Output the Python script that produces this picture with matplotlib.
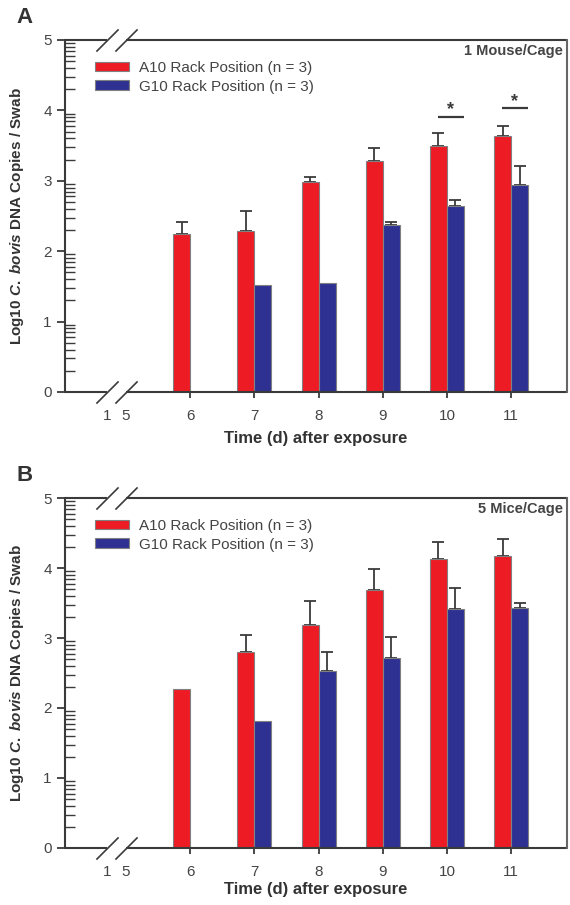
import numpy as np
import matplotlib
matplotlib.use("Agg")
import matplotlib.pyplot as plt

plt.rcParams['font.family'] = ['Liberation Sans', 'DejaVu Sans']
plt.rcParams['mathtext.fontset'] = 'custom'
plt.rcParams['mathtext.rm'] = 'Liberation Sans:bold'
plt.rcParams['mathtext.bf'] = 'Liberation Sans:bold'
plt.rcParams['mathtext.it'] = 'Liberation Sans:italic:bold'
plt.rcParams['mathtext.bfit'] = 'Liberation Sans:italic:bold'

# Podaci (očitani sa slike)
days = [6, 7, 8, 9, 10, 11]
break_labels = ['1', '5']

# Panel A - 1 mouse/cage
a_red = [2.24, 2.29, 2.98, 3.28, 3.49, 3.64]
a_red_err = [0.17, 0.28, 0.07, 0.19, 0.19, 0.14]
a_blue = [np.nan, 1.52, 1.55, 2.37, 2.64, 2.94]
a_blue_err = [0, 0, 0, 0.04, 0.09, 0.27]
a_sig_days = [10, 11]
a_sig_lines = [3.91, 4.03]

# Panel B - 5 mice/cage
b_red = [2.27, 2.80, 3.19, 3.68, 4.13, 4.17]
b_red_err = [0, 0.24, 0.34, 0.30, 0.24, 0.24]
b_blue = [np.nan, 1.81, 2.53, 2.71, 3.41, 3.43]
b_blue_err = [0, 0, 0.27, 0.30, 0.30, 0.07]

red = '#ED1C24'
blue = '#2E3192'
dark = '#3a3a3a'
width = 0.265
x_lo, x_hi = 4.05, 11.87
brk = [4.7, 5.0]


def draw_panel(ax, red_vals, red_err, blue_vals, blue_err, note, letter,
               sig_days=(), sig_lines=()):
    x = np.array(days, dtype=float)
    rv = np.array(red_vals)
    bv = np.array(blue_vals)
    ok_r = ~np.isnan(rv)
    ok_b = ~np.isnan(bv)
    ax.bar(x[ok_r] - width / 2, rv[ok_r], width, color=red, edgecolor='#808080',
           linewidth=0.8, label='A10 Rack Position (n = 3)', zorder=2)
    ax.bar(x[ok_b] + width / 2, bv[ok_b], width, color=blue, edgecolor='#808080',
           linewidth=0.8, label='G10 Rack Position (n = 3)', zorder=2)

    # samo gornje greške
    re = np.array(red_err)
    be = np.array(blue_err)
    m = ok_r & (re > 0)
    ax.errorbar(x[m] - width / 2, rv[m], yerr=[np.zeros(m.sum()), re[m]],
                fmt='none', ecolor=dark, elinewidth=1.3, capsize=4, capthick=1.3, zorder=1)
    m = ok_b & (be > 0)
    ax.errorbar(x[m] + width / 2, bv[m], yerr=[np.zeros(m.sum()), be[m]],
                fmt='none', ecolor=dark, elinewidth=1.3, capsize=4, capthick=1.3, zorder=1)

    # zvjezdice
    for d, yl in zip(sig_days, sig_lines):
        ax.plot([d - 0.14, d + 0.26], [yl, yl], color=dark, lw=1.6, solid_capstyle='butt')
        ax.text(d + 0.06, yl + 0.1, '*', ha='center', va='center',
                fontsize=13, fontweight='bold', color=dark)

    ax.set_xlim(x_lo, x_hi)
    ax.set_ylim(0, 5)

    # osi s prekidom
    for s in ['top', 'bottom']:
        ax.spines[s].set_visible(False)
    ax.spines['left'].set_linewidth(1.5)
    ax.spines['right'].set_linewidth(1.5)
    ax.spines['left'].set_color(dark)
    ax.spines['right'].set_color('#666666')
    tr = ax.get_xaxis_transform()
    for yy in [0, 1]:
        ax.plot([x_lo, brk[0]], [yy, yy], color=dark, lw=1.5, transform=tr, clip_on=False,
                solid_capstyle='butt')
        ax.plot([brk[1], x_hi], [yy, yy], color=dark, lw=1.5, transform=tr, clip_on=False,
                solid_capstyle='butt')
        ax.plot(brk, [yy, yy], linestyle='none', marker=[(-1, -1), (1, 1)],
                markersize=16, mew=1.2, color=dark, transform=tr, clip_on=False)

    ax.set_xticks(brk + days)
    ax.set_xticklabels(break_labels + [str(d) for d in days])
    ax.tick_params(axis='x', direction='out', length=4, width=1.3, color=dark,
                   labelsize=11, labelcolor='#444444', pad=8.5)
    for t in ax.xaxis.get_major_ticks()[:2]:
        t.tick1line.set_visible(False)

    ax.set_yticks(range(6))
    minors = [n + np.log10(k) for n in range(5) for k in range(2, 10)]
    ax.set_yticks(minors, minor=True)
    ax.tick_params(axis='y', which='major', direction='out', length=6, width=1.3,
                   color=dark, labelsize=11, labelcolor='#444444')
    ax.tick_params(axis='y', which='minor', direction='in', length=7, width=1.0, color=dark)

    ax.set_ylabel(r'Log10 $\mathit{C.\ bovis}$ DNA Copies / Swab', fontsize=11,
                  fontweight='bold', color='#333333')
    ax.yaxis.set_label_coords(-0.078, 0.5)
    ax.set_xlabel('Time (d) after exposure', fontsize=12, fontweight='bold', color='#333333')

    ax.legend(loc='upper left', bbox_to_anchor=(0.06, 0.94), frameon=False,
              fontsize=11, handlelength=2.25, handleheight=0.6, handletextpad=0.6,
              labelspacing=0.3, borderpad=0, borderaxespad=0, labelcolor='#444444')
    ax.text(0.992, 0.968, note, transform=ax.transAxes, ha='right', va='center',
            fontsize=10.5, fontweight='bold', color='#444444')
    ax.text(-0.08, 1.065, letter, transform=ax.transAxes, ha='center', va='center',
            fontsize=16, fontweight='bold', color='#333333')


fig = plt.figure(figsize=(5.7, 9.05), dpi=100)
ax1 = fig.add_axes([0.114, 0.5669, 0.8807, 0.389])
ax2 = fig.add_axes([0.114, 0.0630, 0.8807, 0.3867])

draw_panel(ax1, a_red, a_red_err, a_blue, a_blue_err, '1 Mouse/Cage', 'A',
           a_sig_days, a_sig_lines)
ax1.xaxis.set_label_coords(0.5, -0.11)
draw_panel(ax2, b_red, b_red_err, b_blue, b_blue_err, '5 Mice/Cage', 'B')
ax2.xaxis.set_label_coords(0.5, -0.097)

plt.savefig('out.png', dpi=100)
